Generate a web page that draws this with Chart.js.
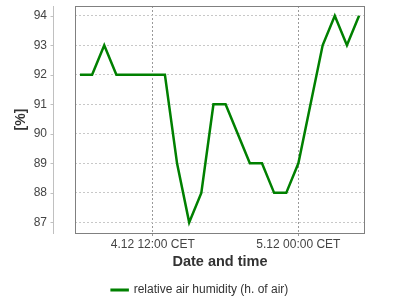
<!DOCTYPE html>
<html>
<head>
<meta charset="utf-8">
<script src="https://cdn.jsdelivr.net/npm/chart.js@4/dist/chart.umd.min.js"></script>
<style>
  html, body { margin: 0; padding: 0; background: #fff; }
  #wrap { width: 400px; height: 300px; }
</style>
</head>
<body>
<div id="wrap"><canvas id="chart"></canvas></div>
<script>
// hours counted from 4.12 00:00 CET
const hours = [6, 7, 8, 9, 10, 11, 12, 13, 14, 15, 16, 17, 18, 19, 20, 21, 22, 23, 24, 25, 26, 27, 28, 29];
const humidity = [92, 92, 93, 92, 92, 92, 92, 92, 89, 87, 88, 91, 91, 90, 89, 89, 88, 88, 89, 91, 93, 94, 93, 94];
const xTickValues = [12, 24];
const xTickLabels = ['4.12 12:00 CET', '5.12 00:00 CET'];
const yTickValues = [87, 88, 89, 90, 91, 92, 93, 94];
const seriesLabel = 'relative air humidity (h. of air)';

const FONT = '"Liberation Sans", Arial, sans-serif';

// plot frame plus the detached y axis line with its ticks
const framePlugin = {
    id: 'frame',
    afterDraw(chart) {
        const ctx = chart.ctx;
        const area = chart.chartArea;
        const y = chart.scales.y;
        ctx.save();
        ctx.strokeStyle = '#808080';
        ctx.lineWidth = 1;
        ctx.strokeRect(area.left + 0.5, area.top + 0.5, area.right - area.left - 1, area.bottom - area.top);

        const axisX = area.left - 21.5;
        ctx.strokeStyle = '#c0c0c0';
        ctx.beginPath();
        ctx.moveTo(axisX, area.top);
        ctx.lineTo(axisX, area.bottom + 1);
        yTickValues.forEach(v => {
            const py = Math.round(y.getPixelForValue(v)) + 0.5;
            ctx.moveTo(axisX - 3, py);
            ctx.lineTo(axisX, py);
        });
        ctx.stroke();
        ctx.restore();
    }
};

new Chart(document.getElementById('chart'), {
    type: 'line',
    data: {
        datasets: [{
            label: seriesLabel,
            data: hours.map((h, i) => ({ x: h, y: humidity[i] })),
            borderColor: '#008000',
            backgroundColor: '#008000',
            borderWidth: 2.5,
            pointRadius: 0,
            tension: 0
        }]
    },
    options: {
        responsive: true,
        maintainAspectRatio: false,
        animation: false,
        layout: { padding: { top: 6, right: 0, left: 0, bottom: -6 } },
        plugins: {
            legend: {
                position: 'bottom',
                labels: {
                    boxWidth: 16,
                    boxHeight: 0.5,
                    padding: 2.5,
                    color: '#333',
                    font: { family: FONT, size: 12 }
                }
            },
            tooltip: { enabled: false }
        },
        scales: {
            x: {
                type: 'linear',
                min: 5.59,
                max: 29.49,
                afterBuildTicks: scale => {
                    scale.ticks = xTickValues.map(v => ({ value: v }));
                },
                afterFit: scale => {
                    scale.height = 48.5;
                    scale.paddingRight = 35;
                },
                ticks: {
                    autoSkip: false,
                    maxRotation: 0,
                    padding: 1,
                    color: '#444',
                    font: { family: FONT, size: 12 },
                    callback: v => xTickLabels[xTickValues.indexOf(v)]
                },
                grid: {
                    color: '#999',
                    tickLength: 3
                },
                border: { display: false, dash: [2, 2] },
                title: {
                    display: true,
                    text: 'Date and time',
                    color: '#333',
                    font: { family: FONT, size: 14.5, weight: 'bold' },
                    padding: { top: 2, bottom: 10.8 }
                }
            },
            y: {
                min: 86.64,
                max: 94.33,
                afterBuildTicks: scale => {
                    scale.ticks = yTickValues.map(v => ({ value: v }));
                },
                afterFit: scale => {
                    scale.width = 75;
                    scale.paddingTop = 0;
                    scale.paddingBottom = 0;
                },
                ticks: {
                    padding: 28,
                    color: '#444',
                    font: { family: FONT, size: 12 }
                },
                grid: {
                    color: '#c8c8c8',
                    drawTicks: false
                },
                border: { display: false, dash: [2, 2] },
                title: {
                    display: true,
                    text: '[%]',
                    color: '#333',
                    font: { family: FONT, size: 14, weight: 'bold' },
                    padding: { top: 12.6, bottom: 0 }
                }
            }
        }
    },
    plugins: [framePlugin]
});
</script>
</body>
</html>
